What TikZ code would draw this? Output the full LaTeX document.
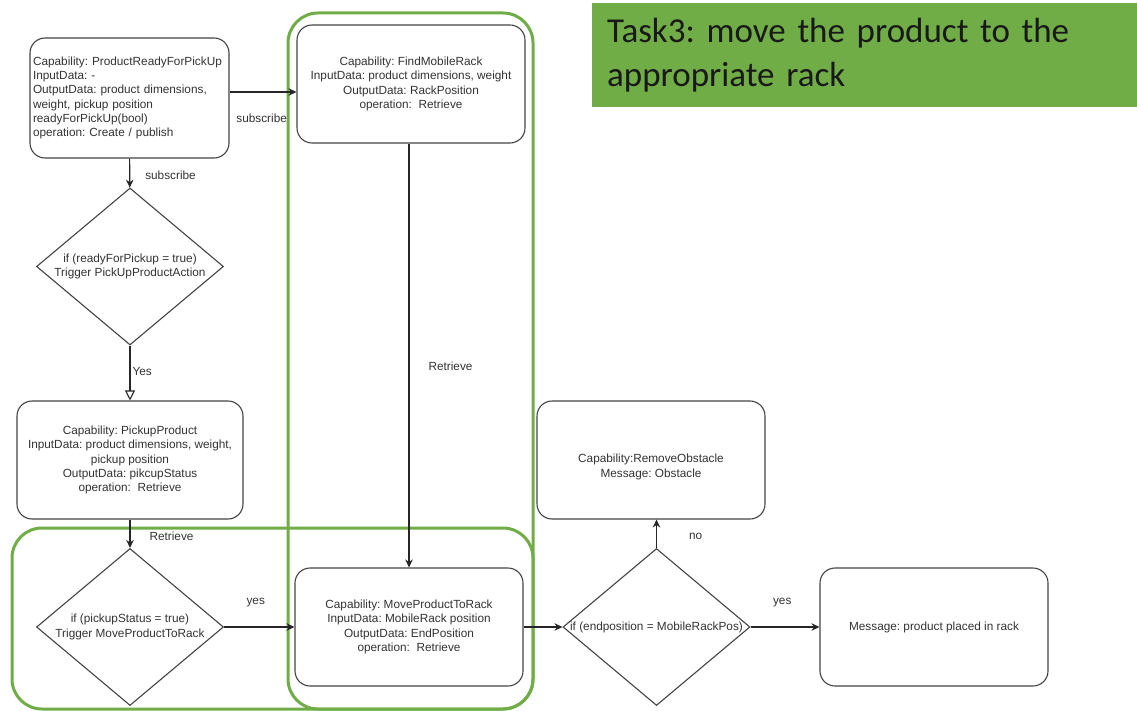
\documentclass[tikz,border=0pt]{standalone}
\usepackage{fontspec}
\setmainfont{Liberation Sans}
\newfontfamily\titlefont{Carlito}
\usetikzlibrary{%
		shapes.geometric%
		,arrows.meta%
	}
\definecolor{taskgreen}{RGB}{112,173,71}
\definecolor{boxline}{RGB}{68,68,68}
\definecolor{txtgray}{RGB}{51,51,51}
\frenchspacing

\begin{document}
\begin{tikzpicture}[x=1pt, y=-1pt,
		capbox/.style={draw=boxline, line width=1.1pt, fill=white, rounded corners=15pt, minimum width=228pt, minimum height=118pt, inner sep=3pt, align=center, text=txtgray, font=\fontsize{11.8}{14.2}\selectfont},
		decision/.style={draw=boxline, line width=1.1pt, fill=white, shape=diamond, minimum width=187pt, minimum height=157pt, inner sep=0pt},
		dtext/.style={align=center, text=txtgray, font=\fontsize{11.8}{14.2}\selectfont, inner sep=0pt},
		link/.style={draw=black!85, line width=1.1pt, -{Stealth[length=8pt,width=7.5pt]}},
		openlink/.style={draw=black!85, line width=1.1pt, -{Triangle[open,length=10pt,width=10pt,fill=white]}},
		elabel/.style={text=txtgray, font=\fontsize{11.8}{14.2}\selectfont, inner sep=0pt},
		frame/.style={draw=taskgreen, line width=3pt, rounded corners=30pt}]
			\useasboundingbox (0,0) rectangle (1137,711);
			
			% Task title
			\node[fill=taskgreen, anchor=north west, minimum width=545pt, minimum height=104pt, text width=515pt, inner xsep=15pt, inner ysep=0pt, align=left, text=black!90, font=\titlefont\fontsize{35}{43.2}\selectfont] (task) at (592,3) {Task3: move the product to the\\appropriate rack};
			
			% Green frames
			\draw[frame] (288,13) rectangle (533,709);
			\draw[frame] (12,528) rectangle (533,709);
			
			% Ready for pick up
			\node[capbox, minimum width=199pt, minimum height=120pt, text width=193pt, align=left] (ready) at (129.5,98) {Capability: ProductReadyForPickUp\\InputData: -\\OutputData: product dimensions,\\weight, pickup position\\readyForPickUp(bool)\\operation: Create / publish};
			
			% Find mobile rack
			\node[capbox] (findrack) at (411,84) {Capability: FindMobileRack\\InputData: product dimensions, weight\\OutputData: RackPosition\\operation:~~Retrieve};
			
			% First decision
			\node[decision] (ifready) at (130,266.5) {};
			\node[dtext] (ifreadytext) at (ifready.center) {if (readyForPickup = true)\\Trigger PickUpProductAction};
			
			% Pickup product
			\node[capbox, minimum width=226pt] (pickup) at (130,460) {Capability: PickupProduct\\InputData: product dimensions, weight,\\pickup position\\OutputData: pikcupStatus\\operation:~~Retrieve};
			
			% Second decision
			\node[decision] (ifpicked) at (130,627) {};
			\node[dtext] (ifpickedtext) at (ifpicked.center) {if (pickupStatus = true)\\Trigger MoveProductToRack};
			
			% Move product to rack
			\node[capbox] (moverack) at (409,627) {Capability: MoveProductToRack\\InputData: MobileRack position\\OutputData: EndPosition\\operation:~~Retrieve};
			
			% Third decision
			\node[decision] (ifend) at (656.5,627) {};
			\node[dtext] (ifendtext) at (ifend.center) {if (endposition = MobileRackPos)};
			
			% Remove obstacle
			\node[capbox] (obstacle) at (651,460) {};
			\node[dtext] (obstacletext) at ([yshift=-7pt]obstacle.center) {Capability:RemoveObstacle\\Message: Obstacle};
			
			% Placed
			\node[capbox] (placed) at (934,627) {Message: product placed in rack};
			
			% Connectors
			\draw[link] ([yshift=6pt]ready.east) -- ([yshift=6pt]ready.east -| findrack.west) node[elabel, pos=0.48, yshift=-26pt] {subscribe};
			\draw[link] (ready) -- (ifready) node[elabel, pos=0.57, anchor=west, xshift=15pt] {subscribe};
			\draw[openlink] (ifready) -- (pickup) node[elabel, pos=0.48, anchor=west, xshift=2pt] {Yes};
			\draw[link] (pickup) -- (ifpicked) node[elabel, pos=0.6, anchor=west, xshift=19pt] {Retrieve};
			\draw[link] (ifpicked) -- (moverack) node[elabel, pos=0.45, yshift=24pt] {yes};
			\draw[link] (moverack.north |- findrack.south) -- (moverack.north) node[elabel, pos=0.525, anchor=west, xshift=19pt] {Retrieve};
			\draw[link] (moverack) -- (ifend);
			\draw[link] (ifend) -- (ifend |- obstacle.south) node[elabel, pos=0.4, anchor=west, xshift=32pt] {no};
			\draw[link] (ifend) -- (placed) node[elabel, pos=0.46, yshift=24pt] {yes};
			
		\end{tikzpicture}
\end{document}
